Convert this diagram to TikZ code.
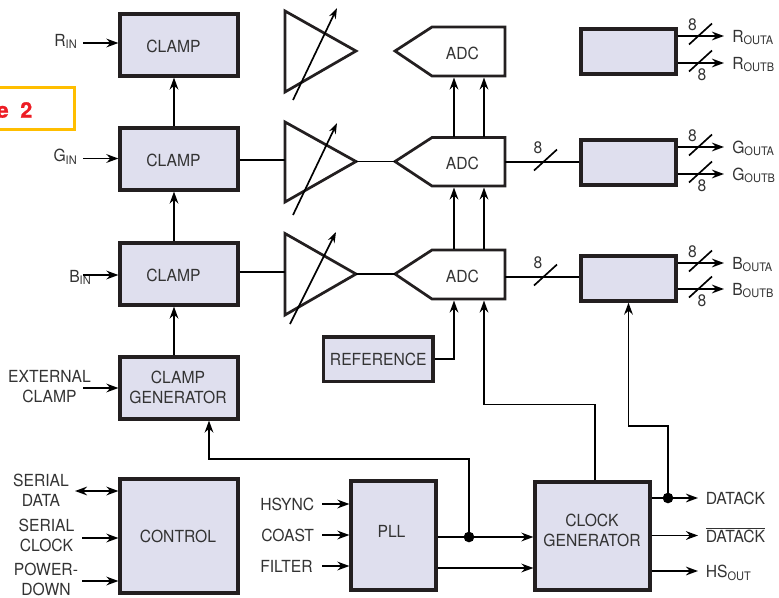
\documentclass[tikz,border=0pt]{standalone}
\usepackage{fontspec}
\setmainfont[FakeStretch=0.94]{TeX Gyre Heros}
\newfontfamily\calloutfont[FakeBold=1.2]{TeX Gyre Heros Bold}
\usetikzlibrary{arrows.meta,calc}
\definecolor{boxfill}{HTML}{DFDFEE}
\definecolor{ink}{HTML}{231F20}
\definecolor{txt}{HTML}{333333}
\definecolor{callout}{HTML}{FFBE00}
\definecolor{calltxt}{HTML}{ED1C24}
\tikzset{
  wire/.style={line width=1.45pt,draw=black,>={Stealth[length=9pt,width=6.5pt]}},
  thin wire/.style={line width=1.25pt,draw=black,>={Stealth[length=8pt,width=5.5pt]}},
  box/.style={draw=ink,fill=boxfill,line width=2.35pt,inner sep=0pt},
  lab/.style={text=txt,font=\fontsize{12.5}{15}\selectfont,align=center,inner sep=0pt},
  amp/.style={draw=ink,line width=2.05pt,line join=miter},
  dot/.style={circle,fill=black,inner sep=0pt,minimum size=8pt}
}
\newcommand\sbs[1]{\raisebox{-0.3ex}{\fontsize{8.8}{10}\selectfont #1}}
\newcommand\boxnode[8]{%
  \node[box,minimum width={(#4-#2)*0.75pt},minimum height={(#5-#3)*0.75pt}] (#1) at ({(#2+#4)/2},{(#3+#5)/2}) {};
  \node[lab] (#1-text) at ({(#2+#4)/2+#6},{(#3+#5)/2+#7}) {#8};}
\newcommand\slashmark[2]{\draw[thin wire] (#1,#2) ++(-11.5,10.5) -- ++(23,-21);}
\begin{document}
\begin{tikzpicture}[x=0.75pt,y=-0.75pt]
\useasboundingbox (0,0) rectangle (779,597);
% callout
\begin{scope}
\clip (0,0) rectangle (779,597);
\draw[callout,line width=1.6pt] (-5,87.5) -- (74.5,87.5) -- (74.5,129.5) -- (-5,129.5);
\node[anchor=east,text=calltxt,font=\fontsize{16}{18}\selectfont\calloutfont,inner sep=0pt] (calloutlabel) at (32.5,110) {e\hspace{0.55em}2};
\end{scope}
% boxes
\boxnode{clampR}{120}{14}{238}{76}{-5.5}{1}{CLAMP}
\boxnode{clampG}{120}{128}{238}{190}{-5.5}{1}{CLAMP}
\boxnode{clampB}{120}{243}{238}{305}{-5.5}{1}{CLAMP}
\boxnode{clampgen}{120}{357}{238}{419}{-1}{-1}{CLAMP\\GENERATOR}
\boxnode{control}{120}{479}{238}{593}{-1}{0}{CONTROL}
\boxnode{pll}{351}{481}{436}{590}{-2}{-4}{PLL}
\boxnode{clock}{535}{482}{650}{590}{-0.5}{-6}{CLOCK\\GENERATOR}
\boxnode{outR}{581}{29}{676}{74}{0}{0}{}
\boxnode{outG}{581}{140}{676}{185}{0}{0}{}
\boxnode{outB}{581}{256}{676}{301}{0}{0}{}
\boxnode{ref}{323.5}{337}{433}{381.5}{0}{0}{REFERENCE}
% amplifiers
\draw[amp] (285,11) coordinate (ampRa) -- (285,92) -- (356,51) coordinate (ampR) -- cycle;
\draw[amp] (285,122) coordinate (ampGa) -- (285,202) -- (356,161.5) coordinate (ampG) -- cycle;
\draw[amp] (285,233.5) coordinate (ampBa) -- (285,315) -- (356,274) coordinate (ampB) -- cycle;
\draw[thin wire,->] (293,100) -- (337,8);
\draw[thin wire,->] (293,215) -- (337,123);
\draw[thin wire,->] (290,324) -- (336,232);
% ADCs
\draw[amp] (395,51) coordinate (adcR) -- (432,27) -- (505,27) -- (505,76) coordinate (adcRr) -- (432,76) -- cycle;
\draw[amp] (395,161.5) coordinate (adcG) -- (432,137.5) -- (505,137.5) -- (505,186) coordinate (adcGr) -- (432,186) -- cycle;
\draw[amp] (395,274) coordinate (adcB) -- (432,250) -- (505,250) -- (505,299) coordinate (adcBr) -- (432,299) -- cycle;
\node[lab] (adcRt) at (462.5,53.5) {ADC};
\node[lab] (adcGt) at (462.5,163.5) {ADC};
\node[lab] (adcBt) at (462.5,276.5) {ADC};
% named connector points
\coordinate (aR1) at (454,77.5); \coordinate (aR2) at (484,77.5);
\coordinate (aG1) at (454,187.5); \coordinate (aG2) at (484,187.5);
\coordinate (aB1) at (454,300.5); \coordinate (aB2) at (484,300.5);
\coordinate (g1) at (454,136.5); \coordinate (g2) at (484,136.5);
\coordinate (b1) at (454,249); \coordinate (b2) at (484,249);
% inputs
\node[lab,anchor=east] (rin) at (77,41.5) {R\sbs{IN}};
\node[lab,anchor=east] (gin) at (77,157) {G\sbs{IN}};
\node[lab,anchor=east] (bin) at (91,277.5) {B\sbs{IN}};
\node[lab,anchor=center] (ext) at (49.5,387) {EXTERNAL\\CLAMP};
\node[lab] (sdata) at (41,490) {SERIAL\\DATA};
\node[lab] (sclock) at (46.5,535) {SERIAL\\CLOCK};
\node[lab] (pdown) at (46,579.5) {POWER-\\DOWN};
\node[lab,anchor=west] (hsync) at (260,504) {HSYNC};
\node[lab,anchor=west] (coast) at (261,535) {COAST};
\node[lab,anchor=west] (filter) at (260,566) {FILTER};
\coordinate (rinS) at (83,43); \coordinate (ginS) at (83,158.5); \coordinate (binS) at (83,275);
\coordinate (extS) at (83,388); \coordinate (sdS) at (75,491); \coordinate (scS) at (82,538); \coordinate (pdS) at (82,581);
\coordinate (hsS) at (322,504); \coordinate (coS) at (322,535); \coordinate (fiS) at (322,566);
\draw[wire,->] (rinS) -- (clampR.west |- rinS);
\draw[wire,->] (ginS) -- (clampG.west |- ginS);
\draw[wire,->] (binS) -- (clampB.west |- binS);
\draw[wire,->] (extS) -- (clampgen.west |- extS);
\draw[wire,<->] (sdS) -- (control.west |- sdS);
\draw[wire,->] (scS) -- (control.west |- scS);
\draw[wire,->] (pdS) -- (control.west |- pdS);
\draw[wire,->] (hsS) -- (pll.west |- hsS);
\draw[wire,->] (coS) -- (pll.west |- coS);
\draw[wire,->] (fiS) -- (pll.west |- fiS);
% clamp chain
\draw[wire,->] ($(clampG.north)+(-5,0)$) -- ($(clampR.south)+(-5,0)$);
\draw[wire,->] ($(clampB.north)+(-5,0)$) -- ($(clampG.south)+(-5,0)$);
\draw[wire,->] ($(clampgen.north)+(-5,0)$) -- ($(clampB.south)+(-5,0)$);
% signal path
\draw[wire] (clampG.east |- 0,160) -- (285,160);
\draw[wire] (clampB.east |- 0,272) -- (285,272);
\draw[wire] (ampG) -- (adcG);
\draw[wire] (ampB) -- (adcB);
\draw[wire,->] (g1) -- (aR1);
\draw[wire,->] (g2) -- (aR2);
\draw[wire,->] (b1) -- (aG1);
\draw[wire,->] (b2) -- (aG2);
% ADC to output registers
\draw[wire] (505,162) -- (outG.west |- 0,162);
\draw[wire] (505,277) -- (outB.west |- 0,277);
\slashmark{545.5}{160}\node[lab] (n8g) at (538,148) {8};
\slashmark{545.5}{275}\node[lab] (n8b) at (538,263) {8};
% outputs
\newcommand\outpair[5]{%
  \coordinate (#1a) at (724,#2); \coordinate (#1b) at (724,#3);
  \draw[wire,->] (#1.east |- #1a) -- (#1a);
  \draw[wire,->] (#1.east |- #1b) -- (#1b);
  \slashmark{700.5}{#2-2}\slashmark{700.5}{#3-2}
  \node[lab] (#1n8a) at (692.5,{#2-11}) {8};
  \node[lab] (#1n8b) at (702,{#3+12}) {8};
  \node[lab,anchor=west] (#1la) at (732,{#2+1.5}) {#4\sbs{OUTA}};
  \node[lab,anchor=west] (#1lb) at (732,{#3+1.5}) {#5\sbs{OUTB}};}
\outpair{outR}{36}{63}{R}{R}
\outpair{outG}{147}{174}{G}{G}
\outpair{outB}{263}{289}{B}{B}
% PLL to clock
\coordinate (pllA) at (436,537); \coordinate (pllB) at (436,568);
\draw[wire,->] (pll.east |- pllA) -- (clock.west |- pllA);
\draw[wire,->] (pll.east |- pllB) -- (clock.west |- pllB);
\node[dot] (pdot) at (469,537) {};
\draw[wire,->] (pdot.center) -- (469,459) -- (209,459) -- (clampgen.south -| 209,0);
% reference
\draw[wire,->] (ref.east) -| (aB1);
% clock fan-out
\draw[wire,->] ($(clock.north)+(2.5,0)$) -- (595,404.5) -- (484,404.5) -- (aB2);
\node[lab,anchor=west] (dack) at (705.5,498) {DATACK};
\node[lab,anchor=west] (dackn) at (705.5,535) {$\overline{\mbox{DATACK}}$};
\node[lab,anchor=west] (hsout) at (705.5,573) {HS\sbs{OUT}};
\coordinate (dackE) at (698,498); \coordinate (dacknE) at (698,535.5); \coordinate (hsE) at (698,571);
\draw[wire,->] (clock.east |- dackE) -- (dackE);
\draw[wire,->] (clock.east |- dacknE) -- (dacknE);
\draw[wire,->] (clock.east |- hsE) -- (hsE);
\node[dot] (ddot) at (668,498) {};
\draw[wire,->] (ddot.center) -- (668,426) -- (628.5,426) -- (outB.south -| 628.5,0);
\end{tikzpicture}
\end{document}
